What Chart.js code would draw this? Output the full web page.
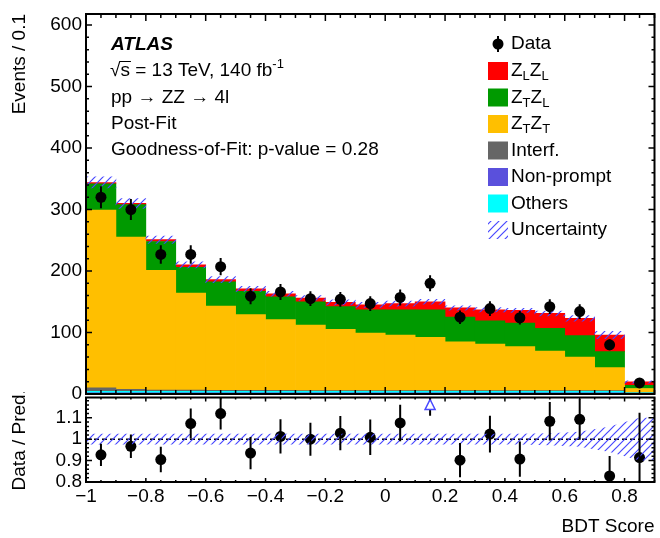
<!DOCTYPE html>
<html>
<head>
<meta charset="utf-8">
<script src="https://cdn.jsdelivr.net/npm/chart.js@4.4.1/dist/chart.umd.min.js"></script>
<style>
  body { margin: 0; background: #fff; }
  #wrap { position: relative; width: 660px; height: 538px; }
  #mainChart { position: absolute; left: 0; top: 0; }
  #ratioChart { position: absolute; left: 0; top: 392px; }
</style>
</head>
<body>
<div id="wrap">
  <canvas id="mainChart" width="660" height="400" style="width:660px;height:400px"></canvas>
  <canvas id="ratioChart" width="660" height="146" style="width:660px;height:146px"></canvas>
</div>
<script>
// bin centres of the BDT score histogram (bin width 0.1)
const binCenters = [-0.95, -0.85, -0.75, -0.65, -0.55, -0.45, -0.35, -0.25, -0.15, -0.05,
                    0.05, 0.15, 0.25, 0.35, 0.45, 0.55, 0.65, 0.75, 0.85];

// stacked post-fit predictions
const nonPrompt = [2, 2, 2, 2, 2, 2, 2, 2, 2, 2, 2, 2, 2, 2, 2, 2, 2, 2, 1];
const others    = [2.5, 2.5, 2.5, 2.5, 2.5, 2.5, 2.5, 2.5, 2.5, 2.5, 2.5, 2.5, 2.5, 2.5, 2.5, 2.5, 2.5, 2.5, 1];
const interf    = [5.5, 3, 2, 2, 1.5, 1.5, 1.5, 1, 1, 1, 1, 1, 1, 1, 1, 1, 1, 1, 0.5];
const zTZT      = [289, 247.5, 194.5, 157.5, 137, 123, 115, 106.5, 99.5, 93.5, 90.5, 86.5, 79.5, 75.5, 71.5, 64.5, 54.5, 37.5, 6.5];
const zTZL      = [43, 53, 47, 42, 39.5, 38, 37, 38, 37, 38, 41, 45, 40, 38, 38.5, 37, 35, 26, 5];
const zLZL      = [2, 2, 3, 4, 3.5, 4, 5, 6, 7, 8, 10, 13, 15, 18, 20.5, 24, 28, 27, 5.6];
const mcUnc     = [9, 8, 6, 5, 5, 4, 4, 4, 4, 4, 4, 4, 3.5, 3.5, 3.5, 4, 4.5, 6, 2];

// observed data
const dataCounts = [320, 300, 227, 227, 207, 159, 166, 155, 154, 147, 157, 180, 125, 139, 124, 142, 134, 80, 18];
const dataErr    = [18, 17, 15, 15, 14, 13, 13, 12, 12, 12, 13, 13, 11, 12, 11, 12, 12, 9, 4];

// ratio panel
const ratioVals = [0.927, 0.967, 0.905, 1.073, 1.12, 0.935, 1.013, 1.0, 1.028, 1.009,
                   1.076, 1.2, 0.902, 1.024, 0.907, 1.084, 1.093, 0.828, 0.914];
const ratioErr  = [0.052, 0.055, 0.06, 0.07, 0.075, 0.075, 0.08, 0.077, 0.08, 0.083,
                   0.085, 0.09, 0.08, 0.086, 0.082, 0.09, 0.095, 0.093, 0.21];
const ratioUnc  = [0.025, 0.025, 0.025, 0.025, 0.025, 0.025, 0.025, 0.025, 0.025, 0.025,
                   0.025, 0.025, 0.025, 0.025, 0.025, 0.028, 0.035, 0.06, 0.1];

// tick labels
const xTickVals = [-1, -0.8, -0.6, -0.4, -0.2, 0, 0.2, 0.4, 0.6, 0.8];
const yTickVals = [0, 100, 200, 300, 400, 500, 600];
const ratioTickVals = [0.8, 0.9, 1, 1.1];

const FONT = '"Liberation Sans", Arial, Helvetica, sans-serif';
Chart.defaults.font.family = FONT;
Chart.defaults.font.size = 19;
Chart.defaults.color = '#000';

const colors = {
  zLZL: '#ff0000', zTZL: '#009a00', zTZT: '#ffbf00',
  interf: '#666666', nonPrompt: '#5a50dc', others: '#00ffff', hatch: '#4848ff'
};

function makeHatch(ctx) {
  const c = document.createElement('canvas');
  c.width = 8; c.height = 8;
  const g = c.getContext('2d');
  g.strokeStyle = colors.hatch;
  g.lineWidth = 1.2;
  g.beginPath();
  g.moveTo(0, 8); g.lineTo(8, 0);
  g.moveTo(-2, 2); g.lineTo(2, -2);
  g.moveTo(6, 10); g.lineTo(10, 6);
  g.stroke();
  return ctx.createPattern(c, 'repeat');
}

function fmtX(v) {
  if (v === 0) return '0';
  const s = Number.isInteger(v) ? String(Math.abs(v)) : Math.abs(v).toFixed(1);
  return (v < 0 ? '\u2212' : '') + s;
}

// keep the plot frame where the layout padding puts it
function fixYAxis(s) {
  s.width = 86;
  s.paddingTop = 0;
  s.paddingBottom = 0;
}

// ROOT style frame with inward ticks on all four sides
const framePlugin = {
  id: 'frame',
  afterDatasetsDraw(chart, args, o) {
    const { ctx, chartArea: a } = chart;
    const xs = chart.scales.x, ys = chart.scales.y;
    ctx.save();
    ctx.strokeStyle = '#000';
    ctx.lineWidth = 1.5;
    ctx.beginPath();
    for (let k = 0; k <= 38; k++) {
      const px = xs.getPixelForValue(-1 + k * 0.05);
      const len = k % 4 === 0 ? o.xMajor : o.xMinor;
      ctx.moveTo(px, a.bottom); ctx.lineTo(px, a.bottom - len);
      ctx.moveTo(px, a.top); ctx.lineTo(px, a.top + len);
    }
    for (let k = 0; k <= o.yCount; k++) {
      const py = ys.getPixelForValue(o.yStart + k * o.yStep);
      if (py < a.top - 0.5) break;
      const len = k % 5 === 0 ? o.yMajor : o.yMinor;
      ctx.moveTo(a.left, py); ctx.lineTo(a.left + len, py);
      ctx.moveTo(a.right, py); ctx.lineTo(a.right - len, py);
    }
    ctx.stroke();
    ctx.lineWidth = 2;
    ctx.strokeRect(a.left, a.top, a.right - a.left, a.bottom - a.top);
    ctx.restore();
  }
};

const mainErrPlugin = {
  id: 'mainErr',
  afterDatasetsDraw(chart) {
    const { ctx, chartArea: a } = chart;
    const xs = chart.scales.x, ys = chart.scales.yu;
    ctx.save();
    ctx.beginPath(); ctx.rect(a.left, a.top, a.width, a.height); ctx.clip();
    ctx.strokeStyle = '#000';
    ctx.lineWidth = 2;
    binCenters.forEach((c, i) => {
      const px = xs.getPixelForValue(c);
      ctx.beginPath();
      ctx.moveTo(px, ys.getPixelForValue(dataCounts[i] - dataErr[i]));
      ctx.lineTo(px, ys.getPixelForValue(dataCounts[i] + dataErr[i]));
      ctx.stroke();
    });
    ctx.restore();
  }
};

function drawRich(ctx, parts, x, y, size) {
  let cx = x;
  for (const [txt, kind] of parts) {
    const s = kind === 'n' ? size : Math.round(size * 0.66);
    const dy = kind === 'sub' ? size * 0.3 : kind === 'sup' ? -size * 0.33 : 0;
    ctx.font = s + 'px ' + FONT;
    ctx.fillText(txt, cx, y + dy);
    cx += ctx.measureText(txt).width;
  }
  return cx;
}

const legendRows = [
  { parts: [['Z', 'n'], ['L', 'sub'], ['Z', 'n'], ['L', 'sub']], color: colors.zLZL },
  { parts: [['Z', 'n'], ['T', 'sub'], ['Z', 'n'], ['L', 'sub']], color: colors.zTZL },
  { parts: [['Z', 'n'], ['T', 'sub'], ['Z', 'n'], ['T', 'sub']], color: colors.zTZT },
  { parts: [['Interf.', 'n']], color: colors.interf },
  { parts: [['Non-prompt', 'n']], color: colors.nonPrompt },
  { parts: [['Others', 'n']], color: colors.others },
  { parts: [['Uncertainty', 'n']], color: 'hatch' }
];

const textPlugin = {
  id: 'texts',
  afterDraw(chart) {
    const ctx = chart.ctx;
    ctx.save();
    ctx.fillStyle = '#000';
    ctx.textBaseline = 'middle';
    ctx.textAlign = 'left';
    ctx.font = 'italic bold 19px ' + FONT;
    ctx.fillText('ATLAS', 111, 45);

    // sqrt(s) with overbar
    ctx.font = '19px ' + FONT;
    ctx.fillText('\u221A', 110, 71);
    const rw = ctx.measureText('\u221A').width;
    const sw = ctx.measureText('s').width;
    ctx.fillText('s', 110 + rw, 71);
    ctx.strokeStyle = '#000';
    ctx.lineWidth = 1;
    ctx.beginPath();
    ctx.moveTo(110 + rw - 1, 61.5); ctx.lineTo(110 + rw + sw + 1, 61.5);
    ctx.stroke();
    drawRich(ctx, [[' = 13 TeV, 140 fb', 'n'], ['-1', 'sup']], 110 + rw + sw, 71, 19);

    ctx.font = '19px ' + FONT;
    ctx.fillText('pp \u2192 ZZ \u2192 4l', 111, 97.5);
    ctx.fillText('Post-Fit', 111, 124);
    ctx.fillText('Goodness-of-Fit: p-value = 0.28', 111, 150);

    // legend
    const hatch = makeHatch(ctx);
    ctx.beginPath();
    ctx.lineWidth = 2;
    ctx.moveTo(498, 36); ctx.lineTo(498, 52);
    ctx.stroke();
    ctx.beginPath();
    ctx.arc(498, 44, 5.5, 0, Math.PI * 2);
    ctx.fill();
    ctx.font = '19px ' + FONT;
    ctx.fillText('Data', 511, 44);
    legendRows.forEach((r, i) => {
      const yc = 71 + 26.5 * i;
      ctx.fillStyle = r.color === 'hatch' ? hatch : r.color;
      ctx.fillRect(488, yc - 9, 20, 18);
      ctx.fillStyle = '#000';
      drawRich(ctx, r.parts, 511, yc, 19);
    });
    ctx.restore();
  }
};

const ratioMarks = {
  id: 'ratioMarks',
  afterDatasetsDraw(chart) {
    const { ctx, chartArea: a } = chart;
    const xs = chart.scales.x, ys = chart.scales.y;
    ctx.save();
    ctx.beginPath(); ctx.rect(a.left, a.top, a.width, a.height); ctx.clip();
    ctx.strokeStyle = '#000';
    ctx.lineWidth = 2;
    binCenters.forEach((c, i) => {
      const px = xs.getPixelForValue(c);
      const r = ratioVals[i], e = ratioErr[i];
      ctx.beginPath();
      ctx.moveTo(px, ys.getPixelForValue(r - e));
      ctx.lineTo(px, ys.getPixelForValue(Math.min(r + e, ys.max)));
      ctx.stroke();
      if (r > ys.max) {
        ctx.save();
        ctx.beginPath();
        ctx.moveTo(px, a.top + 2);
        ctx.lineTo(px + 5, a.top + 12);
        ctx.lineTo(px - 5, a.top + 12);
        ctx.closePath();
        ctx.fillStyle = '#fff';
        ctx.fill();
        ctx.strokeStyle = colors.hatch;
        ctx.lineWidth = 1.5;
        ctx.stroke();
        ctx.restore();
      }
    });
    ctx.restore();
  }
};

// ---------- main panel ----------
const totals = binCenters.map((_, i) =>
  nonPrompt[i] + others[i] + interf[i] + zTZT[i] + zTZL[i] + zLZL[i]);

function barSet(label, values, color) {
  return {
    type: 'bar', label,
    data: binCenters.map((c, i) => ({ x: c, y: values[i] })),
    backgroundColor: color, borderWidth: 0,
    barPercentage: 1, categoryPercentage: 1
  };
}

const mainCanvas = document.getElementById('mainChart');
new Chart(mainCanvas, {
  type: 'bar',
  data: {
    datasets: [
      barSet('Non-prompt', nonPrompt, colors.nonPrompt),
      barSet('Others', others, colors.others),
      barSet('Interf.', interf, colors.interf),
      barSet('ZTZT', zTZT, colors.zTZT),
      barSet('ZTZL', zTZL, colors.zTZL),
      barSet('ZLZL', zLZL, colors.zLZL),
      {
        type: 'bar', label: 'Uncertainty', yAxisID: 'yu', grouped: false, order: -1,
        data: binCenters.map((c, i) => ({ x: c, y: [totals[i] - mcUnc[i], totals[i] + mcUnc[i]] })),
        backgroundColor: makeHatch(mainCanvas.getContext('2d')), borderWidth: 0,
        barPercentage: 1, categoryPercentage: 1
      },
      {
        type: 'line', label: 'Data', yAxisID: 'yu', order: -2, showLine: false,
        data: binCenters.map((c, i) => ({ x: c, y: dataCounts[i] })),
        pointRadius: 5.5, pointBackgroundColor: '#000', pointBorderWidth: 0
      }
    ]
  },
  options: {
    responsive: false, animation: false,
    layout: { padding: { top: 14, right: 1, bottom: 6, left: 0 } },
    plugins: {
      legend: { display: false }, tooltip: { enabled: false },
      frame: { xMajor: 7, xMinor: 4, yMajor: 6, yMinor: 3, yStart: 0, yStep: 20, yCount: 31 }
    },
    scales: {
      x: {
        type: 'linear', min: -1, max: 0.9, stacked: true, display: false, offset: false,
        afterBuildTicks: s => { s.ticks = xTickVals.map(v => ({ value: v })); }
      },
      y: {
        min: 0, max: 618, stacked: true,
        grid: { display: false, drawTicks: false }, border: { display: false },
        ticks: { padding: 4, autoSkip: false, font: { size: 19 } },
        afterBuildTicks: s => { s.ticks = yTickVals.map(v => ({ value: v })); },
        afterFit: fixYAxis,
        title: { display: true, text: 'Events / 0.1', align: 'end', padding: { top: 8, bottom: 0 }, font: { size: 19 } }
      },
      yu: { min: 0, max: 618, display: false }
    }
  },
  plugins: [mainErrPlugin, framePlugin, textPlugin]
});

// ---------- ratio panel ----------
const ratioCanvas = document.getElementById('ratioChart');
const bandX = [-1, ...binCenters, 0.9];
const bandU = [ratioUnc[0], ...ratioUnc, ratioUnc[ratioUnc.length - 1]];
const RMAX = 1.195;

new Chart(ratioCanvas, {
  type: 'line',
  data: {
    datasets: [
      {
        label: 'bandUp', data: bandX.map((x, i) => ({ x, y: 1 + bandU[i] })),
        fill: '+1', backgroundColor: makeHatch(ratioCanvas.getContext('2d')),
        borderColor: 'transparent', borderWidth: 0, pointRadius: 0, tension: 0
      },
      {
        label: 'bandDn', data: bandX.map((x, i) => ({ x, y: 1 - bandU[i] })),
        fill: false, borderColor: 'transparent', borderWidth: 0, pointRadius: 0, tension: 0
      },
      {
        label: 'unity', data: [{ x: -1, y: 1 }, { x: 0.9, y: 1 }],
        borderColor: '#000', borderWidth: 1.5, borderDash: [5, 3], pointRadius: 0, fill: false
      },
      {
        label: 'ratio', showLine: false, fill: false,
        data: binCenters.map((c, i) => ({ x: c, y: ratioVals[i] })),
        pointRadius: ctx => (ratioVals[ctx.dataIndex] > RMAX ? 0 : 5.5),
        pointBackgroundColor: '#000', pointBorderWidth: 0
      }
    ]
  },
  options: {
    responsive: false, animation: false,
    layout: { padding: { top: 3, right: 1, bottom: 0, left: 0 } },
    plugins: {
      legend: { display: false }, tooltip: { enabled: false },
      frame: { xMajor: 4, xMinor: 2, yMajor: 6, yMinor: 3, yStart: 0.8, yStep: 0.02, yCount: 19 }
    },
    scales: {
      x: {
        type: 'linear', min: -1, max: 0.9, offset: false,
        grid: { display: false, drawTicks: false }, border: { display: false },
        ticks: { padding: 3, maxRotation: 0, autoSkip: false, font: { size: 19 }, callback: v => fmtX(v) },
        afterBuildTicks: s => { s.ticks = xTickVals.map(v => ({ value: v })); },
        afterFit: s => { s.height = 56; s.paddingLeft = 0; s.paddingRight = 0; },
        title: { display: true, text: 'BDT Score', align: 'end', padding: { top: 0, bottom: 0 }, font: { size: 19 } }
      },
      y: {
        min: 0.8, max: RMAX,
        grid: { display: false, drawTicks: false }, border: { display: false },
        ticks: { padding: 4, autoSkip: false, font: { size: 19 }, callback: v => (v === 1 ? '1' : v.toFixed(1)) },
        afterBuildTicks: s => { s.ticks = ratioTickVals.map(v => ({ value: v })); },
        afterFit: fixYAxis,
        title: { display: true, text: 'Data / Pred.', padding: { top: 8, bottom: 0 }, font: { size: 19 } }
      }
    }
  },
  plugins: [ratioMarks, framePlugin]
});
</script>
</body>
</html>
